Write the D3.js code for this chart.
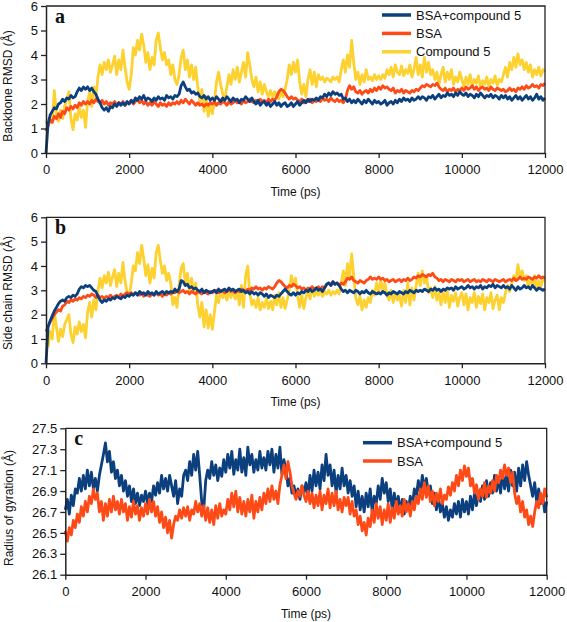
<!DOCTYPE html>
<html><head><meta charset="utf-8">
<script src="https://cdn.jsdelivr.net/npm/d3@7"></script>
<style>body{margin:0;background:#fff}</style>
</head><body><svg id="chart" width="567" height="622" style="font-family:'Liberation Sans',Arial,sans-serif"></svg>
<script>
// sampling interval of the trajectories (ps)
const STEP = 50;
const xTicks = [0,2000,4000,6000,8000,10000,12000];
const rmsdTicks = [0,1,2,3,4,5,6];
const rgTicks = [26.1,26.3,26.5,26.7,26.9,27.1,27.3,27.5];
const legendNames = ["BSA+compound 5","BSA","Compound 5"];

// Panel a: backbone RMSD (Å)
const bbComplex = [
0.00,1.20,1.55,1.70,1.85,1.80,2.00,2.05,2.20,2.10,2.25,2.20,2.35,2.25,2.30,2.50,2.65,2.55,2.70,2.60,
2.70,2.55,2.65,2.50,2.40,2.20,2.05,1.85,1.75,1.85,1.70,1.90,1.85,2.00,1.90,2.05,1.95,2.05,1.95,2.10,
2.00,2.15,2.05,2.25,2.15,2.30,2.20,2.35,2.15,2.25,2.20,2.10,2.25,2.15,2.30,2.20,2.25,2.15,2.35,2.25,
2.30,2.20,2.35,2.30,2.40,2.75,2.90,2.70,2.55,2.60,2.45,2.50,2.40,2.45,2.30,2.25,2.35,2.20,2.30,2.15,
2.25,2.15,2.30,2.20,2.10,2.25,2.15,2.30,2.20,2.10,2.25,2.15,2.20,2.05,2.20,2.15,2.30,2.20,2.10,2.25,
2.10,2.00,2.15,1.95,2.05,2.10,1.95,2.05,1.90,2.00,2.10,1.95,2.05,1.90,2.00,2.05,1.90,1.95,2.05,1.90,
2.00,2.10,1.95,2.05,2.15,2.05,2.20,2.10,2.20,2.15,2.25,2.15,2.30,2.25,2.40,2.30,2.45,2.35,2.50,2.40,
2.45,2.35,2.40,2.20,2.25,2.10,2.20,2.05,2.15,2.05,2.20,2.10,2.00,2.15,2.05,2.20,2.10,2.00,2.15,2.05,
2.10,2.00,2.05,2.15,1.95,2.05,2.10,2.00,2.15,2.05,2.20,2.10,2.25,2.15,2.20,2.10,2.25,2.15,2.20,2.30,
2.20,2.30,2.25,2.15,2.30,2.25,2.35,2.20,2.30,2.40,2.25,2.35,2.30,2.45,2.35,2.40,2.30,2.45,2.35,2.50,
2.40,2.35,2.45,2.30,2.40,2.35,2.25,2.40,2.30,2.45,2.35,2.25,2.35,2.30,2.40,2.25,2.35,2.30,2.20,2.35,
2.25,2.35,2.20,2.30,2.15,2.25,2.35,2.20,2.30,2.15,2.25,2.35,2.20,2.30,2.15,2.25,2.40,2.20,2.30,2.15,
2.25];
const bbBSA = [
0.90,1.10,1.35,1.25,1.50,1.40,1.60,1.45,1.70,1.60,1.85,1.75,1.90,1.80,1.95,1.85,2.05,1.95,2.10,2.00,
2.10,2.00,2.15,2.05,2.20,2.10,2.05,2.15,2.00,2.10,1.95,2.05,2.00,2.10,1.95,2.05,2.00,2.10,1.95,2.05,
2.05,2.15,2.00,2.10,2.20,2.05,2.15,2.00,2.10,1.95,2.05,1.95,2.10,2.00,1.90,2.05,1.95,2.00,1.90,2.05,
1.95,2.05,2.00,2.10,2.00,2.15,2.05,2.20,2.10,2.00,2.15,2.05,1.95,2.05,1.95,2.00,1.90,2.00,1.95,2.05,
2.00,2.10,1.95,2.05,2.00,2.10,2.05,1.95,2.10,2.00,2.05,2.15,2.05,2.10,2.00,2.15,2.05,2.10,2.20,2.10,
2.05,2.15,2.05,2.20,2.10,2.15,2.05,2.20,2.10,2.20,2.15,2.30,2.50,2.60,2.55,2.45,2.30,2.20,2.30,2.20,
2.25,2.15,2.10,2.20,2.05,2.15,2.10,2.20,2.05,2.15,2.10,2.20,2.10,2.25,2.15,2.20,2.10,2.25,2.15,2.10,
2.20,2.10,2.15,2.05,2.20,2.55,2.75,2.60,2.70,2.50,2.45,2.55,2.40,2.50,2.55,2.45,2.60,2.50,2.65,2.55,
2.70,2.60,2.75,2.65,2.70,2.60,2.55,2.65,2.45,2.55,2.50,2.60,2.45,2.55,2.50,2.45,2.55,2.50,2.60,2.55,
2.65,2.75,2.70,2.80,2.75,2.70,2.80,2.75,2.85,2.70,2.60,2.55,2.65,2.50,2.60,2.55,2.65,2.50,2.60,2.55,
2.65,2.55,2.70,2.60,2.65,2.75,2.60,2.70,2.55,2.65,2.70,2.60,2.65,2.55,2.70,2.60,2.55,2.65,2.60,2.55,
2.60,2.50,2.55,2.65,2.55,2.60,2.50,2.65,2.60,2.70,2.60,2.75,2.65,2.70,2.80,2.70,2.75,2.65,2.80,2.75,
2.85];
const bbCmpd = [
1.30,1.10,1.45,1.25,2.55,1.60,1.30,1.75,1.40,1.90,2.20,2.50,1.40,0.95,1.60,1.35,1.90,1.45,1.75,1.05,
2.10,2.50,1.90,2.70,2.30,3.10,3.60,3.20,3.70,3.40,3.80,3.30,3.60,3.95,3.20,3.80,3.40,4.20,3.50,2.90,
2.60,3.20,4.30,4.00,4.60,4.20,4.85,4.40,3.70,4.10,3.40,3.90,3.60,4.60,4.90,4.30,3.80,4.10,3.60,3.80,
3.20,3.60,3.00,2.80,3.20,3.90,4.20,3.40,3.80,3.10,3.60,3.00,3.50,2.70,2.10,2.60,1.70,2.30,1.50,2.00,
1.60,2.10,2.90,3.30,2.80,2.40,2.20,2.70,3.20,2.80,3.40,3.00,3.50,2.90,3.30,3.70,3.10,4.10,3.60,3.00,
2.70,3.10,2.50,2.90,2.40,2.80,2.50,2.30,2.55,2.25,2.50,2.35,2.20,2.50,2.30,2.60,3.00,3.60,3.20,3.70,
3.30,3.80,2.90,2.40,2.80,2.30,3.00,3.40,2.80,3.30,2.70,3.20,3.00,3.10,2.90,3.05,3.00,2.90,3.10,3.00,
3.10,2.90,3.40,3.80,3.30,4.00,3.50,4.60,3.70,3.00,3.30,2.80,3.20,2.90,3.40,3.00,3.10,2.95,3.20,3.00,
3.15,3.00,3.20,3.05,3.40,3.20,3.50,3.10,3.60,3.30,3.20,3.55,3.15,3.40,3.25,3.60,3.10,3.40,3.90,3.20,
3.60,3.10,3.90,3.30,3.70,3.20,3.40,3.00,3.30,2.80,3.20,3.50,2.90,3.30,3.00,3.40,2.80,3.10,2.90,3.30,
3.00,2.70,3.10,2.80,3.20,2.70,3.00,2.85,3.15,2.65,2.95,2.80,3.10,2.70,3.00,2.85,3.15,2.75,3.00,2.90,
3.20,3.50,3.10,3.70,3.40,3.90,3.50,4.05,3.60,3.80,3.40,3.70,3.30,3.60,3.10,3.40,3.20,3.50,3.15,3.40,
3.30];

// Panel b: side chain RMSD (Å)
const scComplex = [
0.00,1.50,1.75,1.95,2.15,2.30,2.45,2.55,2.60,2.55,2.70,2.75,2.70,2.80,2.75,2.85,3.05,3.15,3.10,3.20,
3.15,3.20,3.10,3.00,2.95,2.75,2.60,2.50,2.60,2.55,2.65,2.60,2.70,2.65,2.75,2.70,2.65,2.75,2.70,2.80,
2.75,2.85,2.80,2.90,2.80,2.95,2.85,2.90,2.80,2.95,2.85,2.90,2.80,2.95,2.85,2.90,2.95,2.85,2.95,2.90,
2.95,2.90,3.05,2.95,3.05,3.40,3.35,3.20,3.25,3.10,3.15,3.05,3.10,3.00,2.95,3.05,2.90,3.00,2.95,2.90,
2.95,3.00,2.90,3.05,2.95,3.00,3.05,2.95,3.10,3.00,3.05,2.95,3.00,3.05,2.95,3.00,2.90,2.95,2.85,2.95,
2.85,2.90,2.80,2.90,2.85,2.75,2.85,2.70,2.80,2.75,2.70,2.80,2.75,2.85,2.95,3.05,2.95,2.85,2.80,2.90,
2.80,2.90,2.85,2.95,2.90,3.00,2.95,3.05,2.95,3.00,3.10,3.00,3.05,2.95,3.10,3.25,3.30,3.20,3.35,3.25,
3.30,3.20,3.05,2.95,3.00,2.90,3.00,2.95,2.90,3.00,2.95,2.85,2.95,2.90,3.00,2.90,2.85,2.95,2.90,2.85,
2.90,2.85,2.95,2.90,2.80,2.90,2.85,2.95,2.90,2.85,2.95,2.90,2.85,2.95,2.90,3.00,2.95,2.90,3.00,2.95,
3.00,2.95,3.05,3.00,2.95,3.05,3.00,3.10,3.00,3.05,2.95,3.05,3.00,3.10,3.05,3.10,3.00,3.15,3.05,3.10,
3.15,3.05,3.10,3.20,3.10,3.15,3.05,3.15,3.10,3.20,3.05,3.15,3.10,3.20,3.15,3.25,3.10,3.20,3.15,3.10,
3.20,3.10,3.15,3.05,3.20,3.10,3.00,3.15,3.05,3.10,3.20,3.10,3.15,3.05,3.20,3.10,3.00,3.10,3.05,3.00,
3.05];
const scBSA = [
1.30,1.50,1.70,1.85,2.00,2.10,2.20,2.15,2.35,2.40,2.55,2.50,2.60,2.55,2.65,2.60,2.70,2.65,2.75,2.70,
2.80,2.75,2.85,2.80,2.70,2.80,2.70,2.75,2.65,2.75,2.70,2.80,2.70,2.75,2.80,2.70,2.85,2.75,2.85,2.90,
2.85,2.90,2.80,2.90,2.85,2.80,2.90,2.75,2.85,2.80,2.75,2.85,2.80,2.90,2.80,2.85,2.75,2.85,2.80,2.90,
2.85,2.95,2.90,3.00,2.90,2.95,3.00,2.90,2.95,2.85,2.95,2.90,2.85,2.95,2.90,2.85,2.95,2.90,2.85,2.95,
2.90,2.95,3.00,2.90,2.95,3.00,2.90,2.95,3.05,2.95,3.00,2.90,3.00,2.95,3.05,3.00,2.95,3.05,3.00,3.10,
3.05,3.15,3.05,3.10,3.00,3.10,3.05,3.15,3.10,3.05,3.15,3.30,3.40,3.35,3.25,3.15,3.10,3.20,3.15,3.25,
3.20,3.10,3.15,3.05,3.10,3.00,3.10,3.05,3.15,3.05,3.10,3.15,3.05,3.15,3.10,3.25,3.30,3.20,3.35,3.25,
3.30,3.20,3.30,3.25,3.35,3.50,3.45,3.55,3.40,3.35,3.30,3.40,3.35,3.30,3.40,3.45,3.55,3.45,3.50,3.45,
3.55,3.45,3.50,3.40,3.45,3.35,3.40,3.45,3.35,3.40,3.45,3.35,3.45,3.40,3.50,3.40,3.45,3.55,3.50,3.60,
3.55,3.65,3.60,3.55,3.65,3.60,3.70,3.55,3.50,3.40,3.45,3.35,3.45,3.40,3.35,3.45,3.40,3.35,3.45,3.40,
3.45,3.35,3.40,3.45,3.35,3.40,3.45,3.35,3.40,3.35,3.45,3.40,3.35,3.45,3.40,3.35,3.45,3.40,3.35,3.40,
3.45,3.35,3.40,3.45,3.40,3.50,3.40,3.45,3.55,3.45,3.50,3.45,3.55,3.50,3.45,3.55,3.50,3.60,3.50,3.55,
3.50];
const scCmpd = [
0.85,0.70,1.30,1.00,2.10,1.50,0.90,1.40,1.10,1.60,1.80,2.00,1.20,0.85,1.50,1.20,1.70,1.30,1.60,1.05,
2.10,2.50,1.90,2.60,2.20,3.00,3.50,3.10,3.60,3.30,3.75,3.20,3.55,3.85,3.15,3.70,3.30,4.15,3.40,2.90,
2.75,3.30,4.00,3.80,4.55,4.10,4.85,4.30,3.60,4.05,3.30,3.90,3.50,4.55,4.85,4.20,3.70,4.00,3.40,3.70,
3.30,2.40,2.70,2.30,3.20,3.90,4.10,3.30,3.70,2.95,3.50,2.90,3.30,2.40,1.90,2.50,1.50,2.20,1.45,2.00,
1.40,2.10,2.80,2.50,3.00,2.70,2.90,2.60,3.00,2.70,2.95,2.65,3.00,2.40,3.20,2.30,3.60,4.00,2.90,2.40,
2.60,2.30,2.70,2.20,2.50,2.30,2.65,2.25,2.55,2.20,2.80,2.40,2.90,2.30,2.70,2.25,2.60,3.00,3.60,3.20,
3.50,2.80,2.30,2.80,2.25,2.70,3.00,2.65,3.10,2.75,2.95,2.80,3.00,2.75,2.95,2.85,3.00,2.80,2.95,2.85,
3.00,2.85,3.30,3.80,3.20,4.10,3.50,4.50,3.60,2.70,2.40,2.75,2.20,2.60,2.30,2.70,2.50,3.00,2.80,3.30,
2.90,3.40,3.00,3.30,2.80,2.60,3.00,2.50,2.90,2.60,2.80,2.35,3.00,2.50,3.30,2.40,3.10,2.60,3.20,3.70,
3.20,3.80,3.30,3.60,2.90,3.10,2.70,3.15,2.60,2.90,2.40,2.95,2.50,3.00,2.30,2.80,2.55,2.90,2.35,2.70,
2.90,2.40,2.85,2.20,2.70,2.50,2.90,2.30,2.75,2.45,2.85,2.20,2.70,2.50,2.90,2.25,2.60,2.80,2.20,2.70,
2.50,2.90,3.20,2.95,3.30,3.60,3.40,4.05,3.50,3.80,3.40,3.60,3.10,3.50,3.20,3.60,3.00,3.40,3.15,3.50,
3.40];

// Panel c: radius of gyration (Å)
const rgComplex = [
26.72,26.82,26.68,26.86,26.76,26.92,26.88,27.02,26.90,27.05,26.92,27.10,26.95,27.08,26.92,27.02,26.90,27.05,27.15,27.25,
27.36,27.18,27.28,27.08,27.18,27.02,27.10,26.95,27.05,26.90,27.00,26.85,26.95,26.80,26.92,26.78,26.88,26.76,26.86,26.80,
26.90,26.78,26.88,26.80,26.95,26.86,26.98,26.88,27.05,26.92,27.02,26.90,27.05,26.95,26.85,27.00,26.78,26.92,26.85,27.05,
27.10,27.00,27.18,27.05,27.25,27.10,27.28,27.05,26.80,26.72,27.00,27.10,27.02,27.18,27.05,27.15,27.00,27.12,27.04,27.20,
27.08,27.25,27.12,27.28,27.06,27.20,27.10,27.30,27.08,27.22,27.05,27.32,27.15,27.25,27.08,27.20,27.10,27.28,27.12,27.22,
27.10,27.28,27.15,27.30,27.08,27.25,27.12,27.32,27.06,27.20,27.10,26.95,27.02,26.88,26.95,26.85,26.92,26.82,26.95,26.88,
26.98,26.85,27.05,26.90,27.10,26.95,27.08,26.92,27.15,27.00,27.25,27.05,27.15,26.95,27.10,26.88,27.05,26.92,27.12,26.95,
27.05,26.88,27.00,26.85,26.95,26.75,26.90,26.72,26.85,26.70,26.88,26.75,26.92,26.70,26.85,26.78,26.95,26.82,27.02,26.88,
26.98,26.80,26.92,26.72,26.88,26.75,26.85,26.70,26.82,26.68,26.80,26.72,26.85,26.75,26.92,26.85,27.00,26.88,27.05,26.92,
27.02,26.88,26.95,26.78,26.88,26.72,26.85,26.70,26.78,26.65,26.75,26.62,26.72,26.65,26.78,26.68,26.80,26.65,26.82,26.70,
26.80,26.68,26.85,26.72,26.88,26.76,26.90,26.80,26.95,26.82,27.00,26.85,26.98,26.88,27.05,26.90,27.02,26.88,27.08,26.92,
27.05,26.90,27.10,26.95,27.08,26.90,27.12,26.95,27.15,27.00,27.18,27.05,26.95,26.85,26.98,26.80,26.92,26.78,26.85,26.70,
26.80];
const rgBSA = [
26.52,26.42,26.55,26.48,26.62,26.55,26.68,26.60,26.75,26.66,26.80,26.70,26.85,26.78,26.92,26.82,26.88,26.70,26.80,26.62,
26.78,26.66,26.82,26.70,26.85,26.72,26.80,26.68,26.82,26.70,26.78,26.62,26.75,26.65,26.80,26.68,26.76,26.62,26.74,26.66,
26.78,26.68,26.82,26.70,26.80,26.66,26.75,26.60,26.70,26.55,26.65,26.50,26.62,26.45,26.58,26.66,26.62,26.72,26.64,26.74,
26.66,26.75,26.62,26.72,26.68,26.80,26.70,26.78,26.66,26.76,26.62,26.74,26.60,26.72,26.58,26.76,26.64,26.78,26.66,26.72,
26.68,26.82,26.72,26.88,26.75,26.90,26.70,26.84,26.68,26.80,26.66,26.82,26.70,26.86,26.64,26.80,26.70,26.84,26.72,26.88,
26.78,26.92,26.80,26.95,26.82,26.90,26.78,26.96,27.05,27.15,27.02,27.18,27.08,26.95,26.88,26.82,26.90,26.85,26.95,26.86,
26.80,26.90,26.78,26.88,26.74,26.86,26.76,26.90,26.72,26.86,26.78,26.92,26.74,26.88,26.76,26.90,26.72,26.82,26.70,26.84,
26.76,26.84,26.68,26.80,26.66,26.72,26.58,26.66,26.52,26.60,26.48,26.64,26.56,26.72,26.60,26.78,26.64,26.75,26.58,26.72,
26.62,26.78,26.60,26.74,26.64,26.80,26.68,26.76,26.66,26.82,26.70,26.78,26.66,26.80,26.72,26.85,26.78,26.92,26.82,26.98,
26.84,26.95,26.80,26.90,26.76,26.88,26.80,26.92,26.78,26.86,26.82,26.94,26.86,26.98,26.90,27.05,26.95,27.10,27.00,27.14,
27.04,27.12,26.95,27.02,26.88,26.96,26.82,26.92,26.85,26.98,26.84,26.95,26.88,27.00,26.90,27.05,26.98,27.10,27.02,27.15,
27.05,27.12,26.98,27.08,26.88,26.78,26.85,26.70,26.80,26.65,26.72,26.58,26.66,26.56,26.70,26.80,26.74,26.88,26.78,26.92,
26.84];

const C_COMPLEX = "#0b3f7e", C_BSA = "#fe4a16", C_CMPD = "#fdd130";
const SANS = "'Liberation Sans', Arial, sans-serif";
const SERIF = "'Liberation Serif', 'Times New Roman', serif";

const svg = d3.select("#chart");

function panel(o) {
  const x = d3.scaleLinear().domain([0, 12000]).range([o.x0, o.x1]);
  const y = d3.scaleLinear().domain(o.ydom).range([o.yb, o.yt]);
  const g = svg.append("g");
  const line = d3.line().x((d, i) => x(i * STEP)).y(d => y(d));
  o.series.forEach(s => {
    g.append("path").datum(s.values)
      .attr("d", line).attr("fill", "none").attr("stroke", s.color)
      .attr("stroke-width", 2.8).attr("stroke-linejoin", "round");
  });
  g.append("path").attr("d", `M${o.x0},${o.yt}H${o.x1}V${o.yb}`)
    .attr("fill", "none").attr("stroke", "#222").attr("stroke-width", 1.3);
  const xa = g.append("g").attr("transform", `translate(0,${o.yb})`)
    .call(d3.axisBottom(x).tickValues(xTicks).tickSize(5).tickSizeOuter(0).tickPadding(7).tickFormat(d3.format("d")));
  const ya = g.append("g").attr("transform", `translate(${o.x0},0)`)
    .call(d3.axisLeft(y).tickValues(o.yticks).tickSize(5).tickSizeOuter(0).tickPadding(3).tickFormat(o.yfmt));
  [xa, ya].forEach(a => {
    a.selectAll("text").attr("fill", "#111").style("font-size", "13px").style("font-family", SANS);
    a.select(".domain").attr("stroke", "#222").attr("stroke-width", 1.5);
    a.selectAll(".tick line").attr("stroke", "#222").attr("stroke-width", 1.3);
  });
  g.append("text").attr("x", (o.x0 + o.x1) / 2).attr("y", o.yb + 43)
    .attr("text-anchor", "middle").attr("fill", "#111")
    .style("font-size", "12px").style("font-family", SANS).text("Time (ps)");
  g.append("text").attr("transform", `translate(${o.ylabX},${o.ylabY}) rotate(-90)`)
    .attr("text-anchor", "middle").attr("fill", "#111")
    .style("font-size", "12px").style("font-family", SANS).text(o.ylabel);
  g.append("text").attr("x", o.x0 + 9).attr("y", o.yt + 17).attr("fill", "#111")
    .style("font-family", SERIF).style("font-weight", "bold").style("font-size", "20px").text(o.letter);
  if (o.legend) {
    o.legend.items.forEach((it, i) => {
      const ly = o.legend.y + i * o.legend.dy;
      g.append("line").attr("x1", o.legend.x).attr("x2", o.legend.x + 29)
        .attr("y1", ly).attr("y2", ly).attr("stroke", it.color).attr("stroke-width", 3.5);
      g.append("text").attr("x", o.legend.x + 34).attr("y", ly + 4.5).attr("fill", "#111")
        .style("font-size", "13px").style("font-family", SANS).text(it.name);
    });
  }
}

panel({
  x0: 46, x1: 545, yt: 6, yb: 153, ydom: [0, 6], yticks: rmsdTicks, yfmt: d3.format("d"),
  ylabel: "Backbone RMSD (Å)", ylabX: 12, ylabY: 86, letter: "a",
  series: [{values: bbCmpd, color: C_CMPD}, {values: bbBSA, color: C_BSA}, {values: bbComplex, color: C_COMPLEX}],
  legend: {x: 382, y: 15, dy: 18.4, items: [
    {name: legendNames[0], color: C_COMPLEX}, {name: legendNames[1], color: C_BSA}, {name: legendNames[2], color: C_CMPD}]}
});
panel({
  x0: 46, x1: 545, yt: 217.3, yb: 363.3, ydom: [0, 6], yticks: rmsdTicks, yfmt: d3.format("d"),
  ylabel: "Side chain RMSD (Å)", ylabX: 12, ylabY: 293, letter: "b",
  series: [{values: scCmpd, color: C_CMPD}, {values: scBSA, color: C_BSA}, {values: scComplex, color: C_COMPLEX}]
});
panel({
  x0: 65.3, x1: 546.7, yt: 428.3, yb: 574.7, ydom: [26.1, 27.5], yticks: rgTicks, yfmt: d3.format(".1f"),
  ylabel: "Radius of gyration (Å)", ylabX: 13, ylabY: 508, letter: "c",
  series: [{values: rgComplex, color: C_COMPLEX}, {values: rgBSA, color: C_BSA}],
  legend: {x: 363, y: 442.7, dy: 18.3, items: [
    {name: legendNames[0], color: C_COMPLEX}, {name: legendNames[1], color: C_BSA}]}
});
</script></body></html>
